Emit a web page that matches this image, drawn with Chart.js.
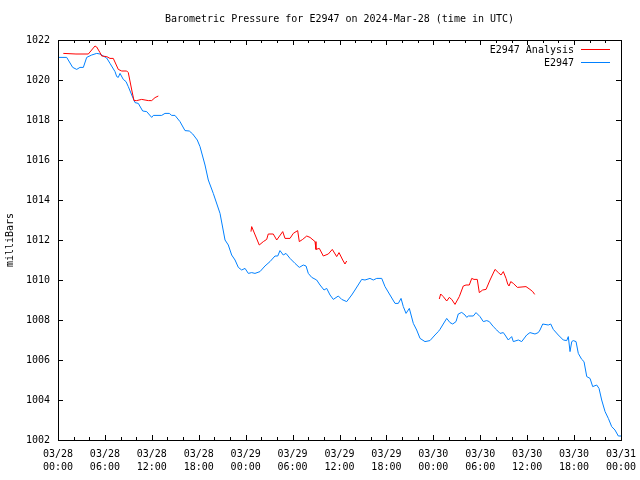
<!DOCTYPE html>
<html>
<head>
<meta charset="utf-8">
<script src="https://cdn.jsdelivr.net/npm/chart.js@4/dist/chart.umd.min.js"></script>
<style>
  html, body { margin: 0; padding: 0; background: #ffffff; }
  canvas { display: block; }
</style>
</head>
<body>
<canvas id="c" width="640" height="480"></canvas>
<script>
// ---- Data (hours since 2024-03-28 00:00 UTC) ----
const titleText = "Barometric Pressure for E2947 on 2024-Mar-28 (time in UTC)";
const yAxisLabel = "milliBars";
const seriesNames = ["E2947 Analysis", "E2947"];
const xTickDates = ["03/28","03/28","03/28","03/28","03/29","03/29","03/29","03/29","03/30","03/30","03/30","03/30","03/31"];
const xTickTimes = ["00:00","06:00","12:00","18:00","00:00","06:00","12:00","18:00","00:00","06:00","12:00","18:00","00:00"];

const obsHours = [0,1.11,1.88,2.39,2.81,3.24,3.67,4.31,4.95,5.37,5.79,6.23,6.65,7.29,7.51,7.71,7.93,8.35,8.70,8.99,9.43,9.85,10.27,10.83,11.34,11.98,12.19,13.26,13.68,14.23,14.54,14.96,15.60,16.24,16.79,17.23,17.81,18.16,18.80,19.22,19.86,20.72,21.36,21.78,22.21,22.64,23.06,23.49,23.92,24.34,24.77,25.19,25.83,26.47,27.11,27.75,28.10,28.39,28.81,29.16,29.67,30.31,30.86,31.37,31.72,32.01,32.45,33.08,33.51,34.02,34.36,34.79,35.21,35.85,36.28,36.92,37.56,37.98,38.84,39.26,39.90,40.32,40.76,41.40,41.82,42.46,43.10,43.52,43.87,44.16,44.51,44.93,45.44,45.87,46.30,46.93,47.57,48.21,48.63,48.85,49.27,49.71,50.13,50.48,50.90,51.19,51.63,52.05,52.27,52.47,53.11,53.46,53.97,54.39,54.83,55.16,55.67,56.11,56.53,56.95,57.17,57.59,58.02,58.23,58.87,59.30,59.94,60.36,61.00,61.42,61.64,61.99,62.70,63.01,63.34,63.98,64.62,65.06,65.26,65.48,65.70,65.90,66.25,66.54,66.98,67.27,67.62,68.04,68.38,68.89,69.19,69.53,69.96,70.38,70.81,71.23,71.66,72.0];
const obsValues = [1021.13,1021.13,1020.63,1020.53,1020.63,1020.63,1021.13,1021.25,1021.33,1021.3,1021.2,1021.1,1020.83,1020.42,1020.17,1020.13,1020.33,1020.03,1019.92,1019.67,1019.25,1018.87,1018.83,1018.45,1018.42,1018.13,1018.23,1018.23,1018.33,1018.33,1018.23,1018.23,1017.92,1017.47,1017.45,1017.3,1017.0,1016.67,1015.75,1015.0,1014.33,1013.33,1012.0,1011.75,1011.25,1011.0,1010.63,1010.5,1010.58,1010.33,1010.37,1010.33,1010.42,1010.7,1010.92,1011.2,1011.2,1011.47,1011.25,1011.33,1011.08,1010.83,1010.63,1010.75,1010.7,1010.33,1010.13,1010.0,1009.75,1009.5,1009.58,1009.25,1009.03,1009.2,1009.03,1008.92,1009.25,1009.5,1010.03,1010.0,1010.08,1010.0,1010.08,1010.08,1009.67,1009.25,1008.83,1008.83,1009.08,1008.67,1008.33,1008.58,1007.83,1007.5,1007.08,1006.92,1006.97,1007.25,1007.42,1007.53,1007.8,1008.08,1007.87,1007.8,1007.92,1008.3,1008.38,1008.25,1008.13,1008.2,1008.2,1008.37,1008.17,1007.92,1007.97,1007.92,1007.67,1007.5,1007.33,1007.37,1007.25,1007.0,1007.17,1006.92,1007.0,1006.92,1007.25,1007.37,1007.3,1007.37,1007.5,1007.8,1007.75,1007.8,1007.53,1007.25,1007.0,1006.97,1007.17,1006.42,1006.92,1006.97,1006.92,1006.33,1006.03,1005.92,1005.17,1005.08,1004.67,1004.75,1004.58,1004.0,1003.42,1003.08,1002.67,1002.5,1002.2,1002.2];

// Analysis series: three runs separated by null gaps
const anaHours = [0.68,2.30,3.88,4.73,4.95,5.37,5.59,6.23,6.65,7.07,7.71,8.15,8.79,8.99,9.43,9.72,10.06,10.70,11.13,11.55,11.98,12.41,12.83,
  18.0,
  24.68,24.77,25.74,26.26,26.69,26.89,27.53,27.97,28.74,29.03,29.67,30.09,30.65,30.86,31.29,31.81,32.23,32.87,32.99,33.42,33.93,34.57,35.08,35.64,35.94,36.41,36.70,36.92,
  42.0,
  48.76,48.94,49.27,49.71,50.04,50.35,50.77,51.32,51.83,52.18,52.60,52.91,53.20,53.62,53.88,54.31,54.74,55.25,55.89,56.31,56.65,56.95,57.30,57.51,57.68,57.90,58.23,58.75,59.85,60.36,60.71,60.96];
const anaValues = [1021.33,1021.3,1021.3,1021.7,1021.65,1021.37,1021.2,1021.17,1021.08,1021.08,1020.53,1020.45,1020.45,1020.37,1019.5,1018.97,1018.97,1019.03,1019.0,1018.97,1018.97,1019.12,1019.2,
  null,
  1012.42,1012.67,1011.75,1011.92,1012.03,1012.3,1012.3,1012.0,1012.42,1012.08,1012.08,1012.33,1012.47,1011.92,1012.03,1012.2,1012.13,1011.92,1011.53,1011.58,1011.2,1011.3,1011.53,1011.17,1011.37,1011.0,1010.8,1010.95,
  null,
  1009.05,1009.3,1009.17,1008.95,1009.13,1009.03,1008.78,1009.17,1009.7,1009.75,1009.75,1010.08,1010.03,1010.03,1009.37,1009.5,1009.53,1010.0,1010.53,1010.37,1010.25,1010.42,1010.08,1009.8,1009.7,1009.92,1009.83,1009.63,1009.67,1009.53,1009.42,1009.28];

const RED = "#ff0000";
const BLUE = "#0080ff";
const FONT = "DejaVu Sans Mono";

function pts(xs, ys) { return xs.map((x, i) => ({ x: x, y: ys[i] })); }

const framePlugin = {
  id: 'frame',
  afterDraw(chart) {
    const ctx = chart.ctx;
    const a = chart.chartArea;
    const xs = chart.scales.x, ys = chart.scales.y;
    ctx.save();
    ctx.strokeStyle = '#000';
    ctx.lineWidth = 1;
    ctx.beginPath();
    // x ticks: major every 6h, minor every 2h
    for (let h = 0; h <= 72; h += 2) {
      const px = Math.round(xs.getPixelForValue(h)) + 0.5;
      const len = (h % 6 === 0) ? 5 : 3;
      ctx.moveTo(px, a.bottom); ctx.lineTo(px, a.bottom - len);
      ctx.moveTo(px, a.top); ctx.lineTo(px, a.top + len);
    }
    for (let v = 1002; v <= 1022; v += 2) {
      const py = Math.round(ys.getPixelForValue(v)) + 0.5;
      ctx.moveTo(a.left, py); ctx.lineTo(a.left + 5, py);
      ctx.moveTo(a.right, py); ctx.lineTo(a.right - 5, py);
    }
    ctx.stroke();
    ctx.strokeRect(Math.round(a.left) + 0.5, Math.round(a.top) + 0.5, Math.round(a.right - a.left), Math.round(a.bottom - a.top));

    // title
    ctx.fillStyle = '#000';
    ctx.font = '10px "' + FONT + '"';
    ctx.textAlign = 'center';
    ctx.textBaseline = 'middle';
    ctx.fillText(titleText, (a.left + a.right) / 2, 19);

    // legend
    ctx.textAlign = 'right';
    const colors = [RED, BLUE];
    for (let i = 0; i < seriesNames.length; i++) {
      const y = 50 + i * 13;
      ctx.fillStyle = '#000';
      ctx.fillText(seriesNames[i], 574, y);
      ctx.strokeStyle = colors[i];
      ctx.beginPath();
      ctx.moveTo(581, Math.round(y) - 0.5);
      ctx.lineTo(610, Math.round(y) - 0.5);
      ctx.stroke();
    }
    ctx.restore();
  }
};

new Chart(document.getElementById('c'), {
  type: 'line',
  data: {
    datasets: [
      { label: seriesNames[0], data: pts(anaHours, anaValues), borderColor: RED, borderWidth: 1, pointRadius: 0, tension: 0, spanGaps: false, fill: false },
      { label: seriesNames[1], data: pts(obsHours, obsValues), borderColor: BLUE, borderWidth: 1, pointRadius: 0, tension: 0, fill: false }
    ]
  },
  options: {
    responsive: false,
    animation: false,
    devicePixelRatio: 1,
    layout: { padding: { top: 40, right: 19, bottom: 0, left: 0 } },
    plugins: { legend: { display: false }, title: { display: false }, tooltip: { enabled: false } },
    scales: {
      x: {
        type: 'linear', min: 0, max: 72,
        afterFit: (s) => { s.height = 40; s.paddingLeft = 0; s.paddingRight = 0; },
        afterBuildTicks: (s) => { s.ticks = xTickDates.map((d, i) => ({ value: i * 6 })); },
        grid: { display: false, drawTicks: false },
        border: { display: false },
        ticks: {
          autoSkip: false, maxRotation: 0, minRotation: 0, padding: 8,
          color: '#000', font: { family: FONT, size: 10, lineHeight: 1.3 },
          callback: (v) => { const i = Math.round(v / 6); return [xTickDates[i], xTickTimes[i]]; }
        }
      },
      y: {
        type: 'linear', min: 1002, max: 1022,
        afterFit: (s) => { s.width = 58; s.paddingTop = 0; s.paddingBottom = 0; },
        grid: { display: false, drawTicks: false },
        border: { display: false },
        ticks: { stepSize: 2, padding: 8, color: '#000', font: { family: FONT, size: 10 }, callback: (v) => String(v) },
        title: { display: true, text: yAxisLabel, color: '#000', font: { family: FONT, size: 10 }, padding: { top: 4, bottom: 0 } }
      }
    }
  },
  plugins: [framePlugin]
});
</script>
</body>
</html>
